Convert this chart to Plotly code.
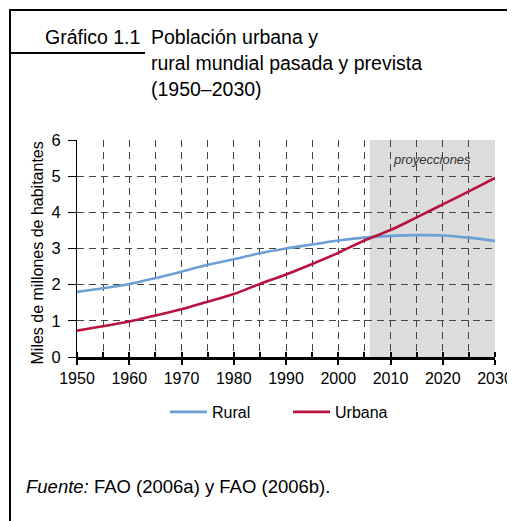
import plotly.graph_objects as go

# Data (thousand millions of people)
years = [1950, 1955, 1960, 1965, 1970, 1975, 1980, 1985, 1990,
         1995, 2000, 2005, 2010, 2015, 2020, 2025, 2030]
rural = [1.80, 1.90, 2.02, 2.18, 2.36, 2.55, 2.70, 2.87, 3.00,
         3.11, 3.22, 3.30, 3.35, 3.37, 3.36, 3.30, 3.21]
urbana = [0.73, 0.85, 0.98, 1.15, 1.32, 1.53, 1.74, 2.02, 2.28,
          2.57, 2.88, 3.22, 3.51, 3.86, 4.22, 4.58, 4.95]
proj_start = 2006
proj_end = 2030

# page has an 8px body margin, so the figure is a bit smaller than the window
OFF = 8
W, H = 515 - OFF, 521 - OFF
L, T = 77 - OFF, 140 - OFF
R, B = W - (495 - OFF), H - (357 - OFF)
PW, PH = W - L - R, H - T - B


def px(x):
    # page pixel -> paper x
    return (x - OFF - L) / PW


def py(y):
    # page pixel -> paper y
    return (H - B - (y - OFF)) / PH


FONT = "Liberation Sans, Arial, sans-serif"
GRID = "#444444"
DASH = "7px,5px"

fig = go.Figure()
fig.add_trace(go.Scatter(x=years, y=rural, name="Rural", mode="lines",
                         line=dict(color="#6c9fd3", width=2.6, shape="spline")))
fig.add_trace(go.Scatter(x=years, y=urbana, name="Urbana", mode="lines",
                         line=dict(color="#b8123f", width=2.6, shape="spline")))

# projection band
fig.add_vrect(x0=proj_start, x1=proj_end, fillcolor="#dcdcdc", line_width=0, layer="below")
fig.add_annotation(x=(proj_start + proj_end) / 2, y=py(150), xref="x", yref="paper",
                   text="<i>proyecciones</i>", showarrow=False,
                   font=dict(size=13, color="#333333"))

# frame lines
line = dict(color="black", width=2)
fig.add_shape(type="line", xref="paper", yref="paper", x0=px(10), x1=px(515), y0=py(10), y1=py(10), line=line)
fig.add_shape(type="line", xref="paper", yref="paper", x0=px(10), x1=px(10), y0=py(9), y1=py(521), line=line)
fig.add_shape(type="line", xref="paper", yref="paper", x0=px(10), x1=px(145), y0=py(53), y1=py(53), line=line)

# titles
tfont = dict(size=19.5, color="black", family=FONT)
fig.add_annotation(x=px(43), y=py(37), xref="paper", yref="paper", xanchor="left", yanchor="middle",
                   text="Gráfico 1.1", showarrow=False, font=tfont)
for i, t in enumerate(["Población urbana y", "rural mundial pasada y prevista", "(1950–2030)"]):
    fig.add_annotation(x=px(149), y=py(37 + 26 * i), xref="paper", yref="paper", xanchor="left",
                       yanchor="middle", text=t, showarrow=False, font=tfont)
fig.add_annotation(x=px(24), y=py(487), xref="paper", yref="paper", xanchor="left", yanchor="middle",
                   text="<i>Fuente:</i> FAO (2006a) y FAO (2006b).", showarrow=False,
                   font=dict(size=18.5, color="black", family=FONT))

# y axis title
fig.add_annotation(x=px(26), y=py(253), xref="paper", yref="paper", textangle=-90,
                   text="Miles de millones de habitantes", showarrow=False,
                   font=dict(size=16, color="black", family=FONT))

fig.update_layout(
    width=W, height=H,
    margin=dict(l=L, r=R, t=T, b=B, autoexpand=False),
    paper_bgcolor="white", plot_bgcolor="white",
    font=dict(family=FONT, size=16, color="black"),
    legend=dict(orientation="h", x=px(165), y=py(412), xanchor="left", yanchor="middle",
                font=dict(size=16), itemwidth=37, entrywidth=71, bgcolor="rgba(0,0,0,0)"),
    xaxis=dict(range=[1950, 2030], dtick=10, ticks="outside", ticklen=5, tickwidth=2,
               tickcolor="black", showline=True, linecolor="black", linewidth=3,
               tickfont=dict(size=16), automargin=False,
               showgrid=True, gridcolor=GRID, griddash=DASH, gridwidth=1, zeroline=False,
               minor=dict(dtick=5, ticks="inside", ticklen=5, tickcolor="black",
                          showgrid=True, gridcolor=GRID, griddash=DASH, gridwidth=1)),
    yaxis=dict(range=[0, 6], dtick=1, ticks="outside", ticklen=8, tickcolor="black",
               showline=True, linecolor="black", linewidth=1, tickfont=dict(size=16.5),
               ticklabelstandoff=4, automargin=False,
               showgrid=True, gridcolor=GRID, griddash=DASH, gridwidth=1, zeroline=False),
)

fig.write_html("out.html")
